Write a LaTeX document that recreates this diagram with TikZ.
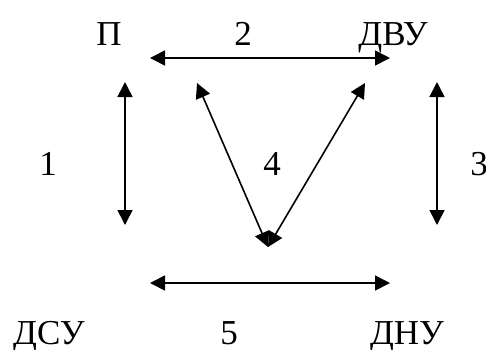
\documentclass[tikz,border=0pt]{standalone}
\usepackage{fontspec}
\setmainfont{Liberation Serif}
\usetikzlibrary{arrows.meta,positioning}
\tikzset{
  lbl/.style={anchor=base,inner sep=0pt,font=\fontsize{35}{40}\selectfont},
  biarrow/.style={{Triangle[length=15pt,width=15pt]}-{Triangle[length=15pt,width=15pt]},line width=1.6pt},
}

\begin{document}
\begin{tikzpicture}[x=1pt,y=-1pt]
  \useasboundingbox (0,0) rectangle (486,349);

  % Top row
  \node[lbl] (p) at (109,45) {П};
  \node[lbl] (n2) at (243,45) {2};
  \node[lbl] (dvu) at (393,45) {ДВУ};

  % Middle row
  \node[lbl] (n1) at (48,175) {1};
  \node[lbl] (n4) at (272,175) {4};
  \node[lbl] (n3) at (479,175) {3};

  % Bottom row
  \node[lbl] (dsu) at (49,344) {ДСУ};
  \node[lbl] (n5) at (229,344) {5};
  \node[lbl] (dnu) at (407,344) {ДНУ};

  % Arrow ends
  \coordinate (topl) at (150,58);
  \coordinate (topr) at (390,58);
  \coordinate (botl) at (150,283);
  \coordinate (botr) at (390,283);
  \coordinate (leftt) at (125,82);
  \coordinate (leftb) at (125,225);
  \coordinate (rightt) at (437,82);
  \coordinate (rightb) at (437,225);
  \coordinate (diagl) at (197,83);
  \coordinate (diagr) at (365,83);
  \coordinate (vtip) at (268,247);

  % Arrows
  \draw[biarrow] (topl) -- (topr);
  \draw[biarrow] (botl) -- (botr);
  \draw[biarrow] (leftt) -- (leftb);
  \draw[biarrow] (rightt) -- (rightb);
  \draw[biarrow] (diagl) -- (vtip);
  \draw[biarrow] (diagr) -- (vtip);
\end{tikzpicture}
\end{document}
